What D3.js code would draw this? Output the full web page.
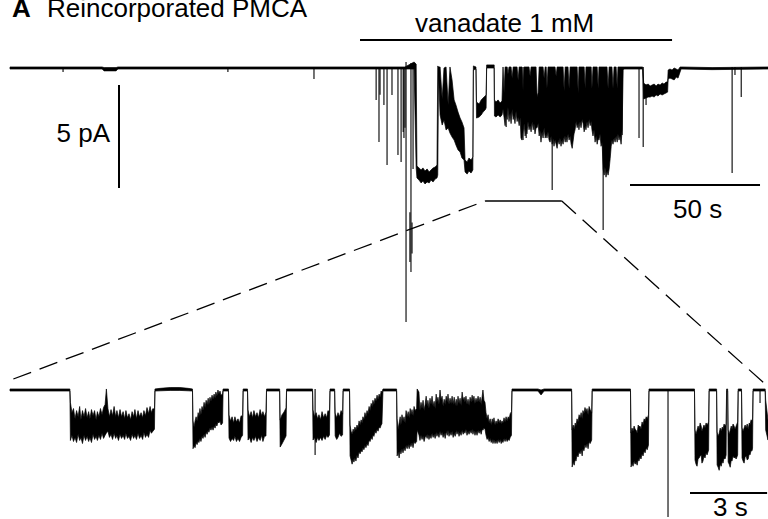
<!DOCTYPE html>
<html><head><meta charset="utf-8">
<script src="https://cdn.jsdelivr.net/npm/d3@7"></script>
<style>
body{margin:0;background:#fff}
svg{display:block}
text{font-family:"Liberation Sans",Helvetica,Arial,sans-serif;fill:#000}
</style></head>
<body><svg id="c" width="768" height="519"></svg>
<script>
// ---- DATA (time in s, current in pA; rows = [time, upper envelope, lower envelope]) ----
const panelLabel = "A";
const panelTitle = "Reincorporated PMCA";
const drugLabel = "vanadate 1 mM";
const drugWindow = [134.6, 254.6];          // s, top record
const expandedWindow = [182.7, 212.2];      // s, top record, shown below
const topDuration = 291.5;                   // s
const bottomDuration = 29.49;                // s
const currentBar = 5;                        // pA
const topTimeBar = 50;                       // s
const bottomTimeBar = 3;                     // s
const currentBarLabel = "5 pA";
const topTimeBarLabel = "50 s";
const bottomTimeBarLabel = "3 s";

const topEnvelope = [
[0,0.05,-0.05],[35.4,0.05,-0.05],[36.2,0.02,-0.14],[40.8,0.02,-0.14],[41.5,0.05,-0.05],
[151.9,0.05,-0.05],[155.4,0.29,-0.05],[156.2,0.19,-4.85],
[156.5,-4.76,-5.34],[157.3,-4.85,-5.44],[158.1,-4.95,-5.58],[158.8,-4.85,-5.49],[159.6,-5.0,-5.63],
[160.4,-4.9,-5.53],[161.2,-5.05,-5.58],[161.9,-4.95,-5.44],[162.7,-4.85,-5.53],[163.5,-4.81,-5.39],
[164.2,-4.71,-5.34],[164.5,0.1,-5.2],[164.8,0.05,-0.34],
[165.4,0.05,-2.28],[166.2,-1.5,-2.77],[166.9,0,-2.52],[167.7,0.05,-3.01],[168.5,-1.8,-2.91],
[169.2,0.05,-3.16],[170.0,-0.58,-3.35],[170.8,-1.55,-3.5],[171.5,-1.8,-3.74],[172.3,-2.14,-3.98],
[173.1,-2.43,-4.08],[173.8,-2.62,-4.37],[174.6,-2.91,-4.47],
[175.0,-4.47,-5.05],[175.8,-4.56,-5.15],[176.5,-4.37,-5.0],[177.3,-4.47,-5.1],[178.0,-4.32,-4.95],
[178.2,0.1,-0.1],[179.2,0.05,-0.05],
[179.4,-1.65,-2.43],[180.4,-1.75,-2.38],[181.2,-1.55,-2.28],[181.9,-1.46,-2.14],[182.7,-1.36,-2.04],[183.1,-1.31,-1.94],
[183.3,0.15,0],[186.2,0.15,0],
[186.3,-1.55,-2.33],[186.9,-1.65,-2.38],[187.7,-1.55,-2.28],[188.5,-1.7,-2.38],[189.2,-1.6,-2.28],
[189.6,0.05,-2.0],[190.0,-1.2,-2.4],[190.4,0.05,-2.8],[190.8,0.05,-2.2],[191.2,0.05,-2.5],[191.5,-0.3,-1.9],
[191.9,0.05,-2.6],[192.3,0.05,-2.2],[192.7,0.05,-2.7],[193.1,-0.5,-2.0],[193.5,0.05,-2.5],[193.8,0.05,-2.3],
[194.2,0.05,-2.7],[194.6,0.05,-2.1],[195.0,0.05,-2.6],[195.4,-0.6,-2.4],[195.8,0.05,-2.8],[196.2,0.05,-2.4],
[196.5,0.05,-3.4],[196.9,0.05,-3.5],[197.3,-1.1,-3.1],[197.7,0.05,-2.7],[198.1,0.05,-3.3],[198.5,0.05,-2.9],
[198.8,0.05,-3.2],[199.2,0.05,-2.6],[199.6,0.05,-3.0],[200.0,-0.4,-2.8],[200.4,0.05,-3.1],[200.8,0.05,-2.6],
[201.2,0.05,-3.0],[201.5,0.05,-2.7],[201.9,0.05,-3.2],[202.3,0.05,-2.9],[202.7,-1.4,-2.9],[203.1,-1.2,-2.7],
[203.5,0.05,-3.3],[203.8,0.05,-3.0],[204.2,0.05,-3.6],[204.6,0.05,-3.1],[205.0,0.05,-3.4],[205.4,-0.5,-2.9],
[205.8,0.05,-3.4],[206.2,0.05,-3.2],[206.5,-1.0,-3.4],[206.9,0.05,-3.1],[207.3,0.05,-3.5],[207.7,0.05,-3.6],
[208.1,0.05,-3.3],[208.5,0.05,-3.7],[208.8,0.05,-3.4],[209.2,0.05,-3.8],[209.6,0.05,-3.5],[210.0,-0.4,-3.7],
[210.4,0.05,-3.9],[210.8,0.05,-3.5],[211.2,0.05,-3.7],[211.5,0.05,-3.4],[211.9,0.05,-3.8],[212.3,0.05,-3.5],
[212.7,0.05,-3.7],[213.1,-1.1,-3.3],[213.5,0.05,-3.6],[213.8,0.05,-3.3],[214.2,0.05,-3.6],[214.6,0.05,-3.2],
[215.0,-1.0,-3.5],[215.4,0.05,-3.3],[215.8,0.05,-3.7],[216.2,0.05,-3.9],[216.5,0.05,-3.6],[216.9,0.05,-3.2],
[217.3,0.05,-3.0],[217.7,0.05,-2.6],[218.1,0.05,-2.9],[218.5,-1.2,-2.7],[218.8,0.05,-3.0],[219.2,0.05,-2.6],
[219.6,0.05,-2.9],[220.0,0.05,-2.5],[220.4,0.05,-2.7],[220.8,0.05,-3.1],[221.2,-1.0,-2.8],[221.5,0.05,-3.0],
[221.9,0.05,-2.6],[222.3,0.05,-2.9],[222.7,0.05,-2.5],[223.1,0.05,-2.8],[223.5,0.05,-2.6],[223.8,-1.0,-3.0],
[224.2,0.05,-3.3],[224.6,0.05,-3.0],[225.0,0.05,-3.6],[225.4,0.05,-3.3],[225.8,0.05,-3.7],[226.2,-1.0,-3.4],
[226.5,0.05,-3.5],[226.9,0.05,-3.2],[227.3,0.05,-3.8],[227.7,0.05,-3.6],[228.1,0.05,-4.9],[228.5,0.05,-5.2],
[228.8,0.05,-4.8],[229.2,0.05,-5.3],[229.6,0.05,-5.0],[230.0,-1.0,-5.2],[230.4,0.05,-4.9],[230.8,0.05,-4.4],
[231.2,0.05,-3.8],[231.5,0.05,-3.5],[231.9,-1.0,-3.7],[232.3,0.05,-3.4],[232.7,0.05,-3.6],[233.1,0.05,-3.3],
[233.5,-1.0,-3.6],[233.8,0.05,-3.2],[234.2,0.05,-3.5],[234.6,0.05,-3.3],[235.0,0.05,-3.7],[235.4,0.05,-3.0],
[235.8,0.05,-0.1],[236.2,0.05,-0.05],[243.3,0.05,-0.05],
[243.7,-0.73,-1.5],[244.6,-0.83,-1.46],[245.4,-0.78,-1.41],[246.2,-0.87,-1.41],[246.9,-0.83,-1.36],
[247.7,-0.78,-1.41],[248.5,-0.87,-1.31],[249.2,-0.78,-1.36],[250.0,-0.83,-1.26],[250.8,-0.73,-1.31],
[251.5,-0.78,-1.26],[252.3,-0.68,-1.21],[252.9,-0.68,-1.17],
[253.1,-0.1,-0.53],[253.8,-0.05,-0.49],[254.6,-0.1,-0.53],[255.4,0,-0.58],[256.2,-0.05,-0.44],
[256.9,-0.1,-0.49],[257.7,0.05,-0.19],[258.1,0.05,-0.05],[270,0.02,-0.08],[291.5,0.05,-0.05]
];
const topSpikes = [ // [time, from, to]
[20.4,0.05,-0.19],[83.8,0.05,-0.19],[116.9,0.05,-0.53],[140.8,0.05,-1.55],[141.9,0.05,-3.59],
[142.3,0.05,-1.3],[143.8,0.05,-1.8],[145.0,0.05,-4.71],[146.9,0.05,-1.31],[149.2,0.05,-4.22],
[150.4,0.05,-4.56],[151.2,0.05,-3.11],[151.5,0.05,-3.4],[151.9,0.05,-2.9],[152.3,0.29,-12.33],
[153.8,-7.0,-9.42],[154.2,0.24,-9.9],[154.6,-7.5,-9.0],[155.0,0.24,-4.9],
[190.8,0.05,-2.86],[197.3,0.05,-3.5],[198.5,0.05,-3.4],[208.5,0.05,-5.92],[228.1,0.05,-7.86],
[235.4,0.05,-3.25],[241.9,0.05,-3.4],[243.5,0.05,-3.83],[244.6,-0.8,-1.8],
[277.7,0.05,-5.1],[278.8,0.05,-0.34],[281.2,0.05,-1.41]
];
const bottomEnvelope = [
[0,0.05,-0.05],[2.33,0.05,-0.05],
[2.35,-0.6,-2.45],[2.41,-1.1,-2.2],[2.47,-0.9,-2.5],[2.53,-1.4,-2.3],[2.59,-1.0,-2.55],[2.65,-1.3,-2.15],
[2.71,-0.8,-2.45],[2.76,-1.45,-2.3],[2.82,-1.0,-2.6],[2.88,-1.3,-2.2],[2.94,-0.9,-2.45],[3.0,-1.35,-2.25],
[3.06,-1.05,-2.5],[3.11,-1.4,-2.3],[3.17,-0.95,-2.55],[3.23,-1.25,-2.15],[3.29,-1.0,-2.4],[3.35,-1.45,-2.25],
[3.4,-1.05,-2.45],[3.46,-1.3,-2.2],[3.52,-0.9,-2.4],[3.58,-1.2,-2.1],[3.64,-0.85,-2.35],[3.7,-0.7,-2.2],
[3.75,0.05,-2.09],[3.81,-0.9,-2.0],[3.87,-1.3,-2.3],[3.93,-0.95,-2.15],[3.99,-1.25,-2.4],[4.05,-0.8,-2.1],
[4.11,-1.3,-2.35],[4.16,-1.0,-2.2],[4.22,-1.35,-2.45],[4.28,-0.95,-2.15],[4.34,-1.3,-2.35],[4.4,-1.05,-2.2],
[4.46,-1.4,-2.4],[4.51,-1.0,-2.1],[4.57,-1.35,-2.35],[4.63,-1.15,-2.25],[4.69,-1.45,-2.45],[4.75,-1.05,-2.15],
[4.81,-1.3,-2.35],[4.86,-0.95,-2.2],[4.92,-1.4,-2.4],[4.98,-1.0,-2.1],[5.04,-1.3,-2.35],[5.1,-1.1,-2.2],
[5.16,-1.35,-2.4],[5.21,-1.0,-2.05],[5.27,-1.25,-2.3],[5.33,-0.85,-2.15],[5.39,-1.15,-2.3],[5.45,-0.8,-1.95],
[5.5,-1.1,-2.1],[5.56,-0.9,-2.0],[5.62,-0.95,-1.9],[5.64,0.05,-0.05],
[5.84,0.08,-0.04],[6.23,0.12,-0.02],[6.61,0.12,-0.02],[6.93,0.08,-0.04],[7.1,0.05,-0.05],
[7.12,-1.5,-2.85],[7.16,-1.8,-2.7],[7.2,-1.5,-2.8],[7.24,-1.3,-2.55],[7.28,-1.5,-2.65],[7.32,-1.1,-2.45],
[7.35,-1.3,-2.55],[7.39,-0.9,-2.35],[7.43,-1.2,-2.5],[7.47,-0.8,-2.25],[7.51,-1.0,-2.35],[7.55,-0.6,-2.15],
[7.59,-0.85,-2.3],[7.63,-0.5,-2.05],[7.67,-0.7,-2.15],[7.71,-0.4,-1.95],[7.74,-0.7,-2.05],[7.78,-0.35,-1.85],
[7.82,-0.55,-1.95],[7.86,-0.25,-1.8],[7.9,-0.45,-1.95],[7.94,-0.2,-1.75],[7.98,-0.4,-1.85],[8.01,-0.1,-1.65],
[8.05,-0.3,-1.75],[8.09,0.0,-1.55],[8.13,-0.2,-1.6],[8.17,-0.05,-1.5],[8.21,-0.25,-1.7],[8.27,-0.2,-1.6],
[8.29,0.05,-0.05],[8.5,0.05,-0.05],
[8.52,-1.21,-2.33],[8.58,-1.5,-2.5],[8.64,-1.3,-2.35],[8.7,-1.6,-2.45],[8.75,-1.3,-2.25],[8.81,-1.55,-2.5],
[8.87,-1.4,-2.35],[8.93,-1.6,-2.5],[8.99,-1.25,-2.3],[9.05,-1.3,-2.2],[9.07,0.05,-0.05],[9.24,0.05,-0.05],
[9.26,-0.97,-2.43],[9.32,-1.3,-2.3],[9.38,-1.05,-2.55],[9.44,-1.35,-2.3],[9.49,-1.0,-2.45],[9.55,-1.3,-2.25],
[9.61,-1.1,-2.5],[9.67,-1.35,-2.3],[9.73,-0.95,-2.45],[9.79,-1.25,-2.2],[9.84,-1.05,-2.5],[9.9,-1.3,-2.25],
[9.96,-1.07,-2.23],[9.98,0.05,-0.05],[10.49,0.05,-0.05],
[10.51,-1.46,-2.77],[10.58,-1.21,-2.62],[10.66,-1.07,-2.43],[10.74,-0.87,-2.23],[10.76,0.05,-0.05],[11.77,0.05,-0.05],
[11.79,-0.97,-2.43],[11.85,-1.3,-2.3],[11.91,-1.1,-2.55],[11.97,-1.4,-2.3],[12.02,-1.2,-2.45],[12.08,-1.45,-2.3],
[12.14,-1.05,-2.45],[12.2,-1.35,-2.25],[12.26,-1.15,-2.4],[12.32,-1.35,-2.2],[12.37,-1.0,-2.3],[12.43,-1.07,-2.18],
[12.45,0.05,-0.05],[12.63,0.05,-0.05],
[12.65,-1.12,-2.23],[12.71,-1.35,-2.4],[12.76,-1.1,-2.3],[12.82,-1.3,-2.1],[12.88,-1.0,-2.25],[12.94,-1.17,-2.18],
[12.96,0.05,-0.05],[13.21,0.05,-0.05],
[13.23,-1.7,-3.2],[13.27,-2.0,-3.4],[13.31,-2.15,-3.6],[13.35,-1.9,-3.35],[13.38,-2.05,-3.5],[13.42,-1.8,-3.3],
[13.46,-1.95,-3.45],[13.5,-1.7,-3.15],[13.54,-1.85,-3.3],[13.58,-1.5,-3.0],[13.62,-1.7,-3.1],[13.66,-1.45,-2.95],
[13.7,-1.6,-3.0],[13.73,-1.3,-2.8],[13.77,-1.45,-2.9],[13.81,-1.1,-2.7],[13.85,-1.3,-2.8],[13.89,-1.0,-2.6],
[13.93,-1.15,-2.7],[13.97,-0.8,-2.45],[14.01,-1.0,-2.5],[14.05,-0.65,-2.3],[14.09,-0.8,-2.4],[14.12,-0.5,-2.2],
[14.16,-0.7,-2.25],[14.2,-0.4,-2.0],[14.24,-0.55,-2.1],[14.28,-0.25,-1.9],[14.32,-0.45,-2.0],[14.36,-0.2,-1.8],
[14.4,-0.35,-1.85],[14.44,-0.05,-1.7],[14.47,-0.15,-1.65],[14.51,0.05,-0.05],[15.04,0.05,-0.05],
[15.06,-1.4,-3.2],[15.1,-1.9,-3.0],[15.14,-1.6,-3.3],[15.18,-1.3,-2.9],[15.21,-1.7,-3.1],[15.25,-1.2,-2.85],
[15.29,-1.5,-3.05],[15.33,-1.3,-2.8],[15.37,-1.6,-2.95],[15.41,-1.0,-2.7],[15.45,-1.3,-2.85],[15.49,-1.05,-2.65],
[15.53,-1.35,-2.85],[15.57,-0.9,-2.6],[15.6,-1.2,-2.75],[15.64,-0.95,-2.55],[15.68,-1.25,-2.8],[15.72,-0.8,-2.5],
[15.76,-1.0,-2.6],[15.82,-0.9,-2.5],[15.84,0.05,-1.94],[15.91,-0.1,-2.18],[15.95,-1.0,-2.45],[15.99,-0.6,-2.2],
[16.03,-0.9,-2.4],[16.07,-0.5,-2.25],[16.11,-1.0,-2.5],[16.15,-0.7,-2.3],[16.19,-0.3,-2.2],[16.23,-0.8,-2.35],
[16.26,-0.5,-2.15],[16.3,-0.9,-2.4],[16.34,-0.4,-2.2],[16.38,-0.7,-2.35],[16.42,-0.3,-2.1],[16.46,-0.8,-2.3],
[16.5,-0.55,-2.15],[16.54,-0.9,-2.35],[16.58,-0.2,-2.05],[16.61,-0.6,-2.25],[16.65,-0.35,-2.1],[16.69,-0.7,-2.3],
[16.73,0.0,-2.0],[16.77,-0.5,-2.2],[16.81,-0.3,-2.05],[16.85,-0.8,-2.3],[16.89,-0.45,-2.1],[16.93,-0.7,-2.35],
[16.97,-0.3,-2.0],[17.01,-0.6,-2.2],[17.04,-0.2,-1.95],[17.08,-0.7,-2.25],[17.12,-0.4,-2.05],[17.16,-0.65,-2.2],
[17.2,-0.3,-2.0],[17.24,-0.7,-2.3],[17.28,-0.35,-2.1],[17.32,-0.75,-2.25],[17.36,-0.45,-1.95],[17.39,-0.8,-2.15],
[17.43,-0.3,-2.0],[17.47,-0.65,-2.25],[17.51,-0.4,-2.05],[17.55,-0.75,-2.2],[17.59,-0.1,-1.95],[17.63,-0.5,-2.15],
[17.67,-0.35,-2.0],[17.7,-0.6,-2.1],[17.74,-0.3,-1.9],[17.78,-0.7,-2.2],[17.82,-0.45,-2.0],[17.86,-0.75,-2.15],
[17.9,-0.35,-1.95],[17.94,-0.6,-2.1],[17.98,-0.25,-1.9],[18.01,-0.55,-2.15],[18.05,-0.3,-1.95],[18.09,-0.65,-2.2],
[18.13,-0.4,-2.0],[18.17,-0.6,-2.2],[18.21,-0.3,-1.95],[18.25,-0.6,-2.1],[18.29,-0.35,-1.95],[18.33,-0.7,-2.15],
[18.37,-0.3,-1.9],[18.4,0.0,-1.95],[18.44,-0.5,-1.85],[18.48,-0.6,-1.9],[18.52,-1.1,-2.2],[18.56,-1.4,-2.4],
[18.6,-1.2,-2.3],[18.64,-1.6,-2.5],[18.68,-1.4,-2.35],[18.72,-1.7,-2.55],[18.76,-1.4,-2.4],[18.79,-1.6,-2.6],
[18.83,-1.35,-2.4],[18.87,-1.7,-2.6],[18.91,-1.5,-2.45],[18.95,-1.65,-2.6],[18.99,-1.4,-2.4],[19.03,-1.6,-2.55],
[19.07,-1.45,-2.4],[19.11,-1.65,-2.6],[19.14,-1.5,-2.45],[19.18,-1.6,-2.55],[19.22,-1.35,-2.35],[19.26,-1.55,-2.5],
[19.3,-1.3,-2.35],[19.34,-1.5,-2.5],[19.38,-1.3,-2.4],[19.42,-1.4,-2.45],[19.46,-1.15,-2.3],[19.51,-1.05,-2.2],
[19.53,0.05,-0.05],[20.54,0.05,-0.05],[20.66,0,-0.24],[20.78,0.05,-0.05],[21.85,0.05,-0.05],
[21.87,-1.94,-3.74],[21.91,-1.7,-3.5],[21.95,-1.9,-3.65],[21.99,-1.6,-3.35],[22.02,-1.75,-3.45],[22.06,-1.4,-3.15],
[22.1,-1.55,-3.25],[22.14,-1.2,-3.0],[22.18,-1.35,-3.1],[22.22,-1.1,-2.9],[22.26,-1.4,-3.2],[22.29,-1.0,-2.85],
[22.33,-1.15,-2.95],[22.37,-0.85,-2.65],[22.41,-1.05,-2.8],[22.45,-0.9,-2.6],[22.49,-1.2,-2.85],[22.53,-0.8,-2.5],
[22.57,-0.95,-2.6],[22.63,-1.12,-2.43],[22.65,0.05,-0.05],[24.14,0.05,-0.05],
[24.16,-2.09,-3.74],[24.2,-1.85,-3.55],[24.24,-2.0,-3.7],[24.28,-1.75,-3.45],[24.32,-1.9,-3.6],[24.36,-1.95,-3.5],
[24.4,-2.1,-3.65],[24.44,-1.7,-3.35],[24.47,-1.8,-3.45],[24.51,-1.75,-3.25],[24.55,-1.9,-3.35],[24.59,-1.55,-3.1],
[24.63,-1.7,-3.2],[24.67,-1.4,-2.95],[24.71,-1.5,-3.05],[24.75,-1.3,-2.8],[24.79,-1.4,-2.9],[24.84,-1.21,-2.67],
[24.86,0.05,-0.05],[26.63,0.05,-0.05],
[26.65,-1.94,-3.4],[26.69,-2.15,-3.6],[26.73,-1.95,-3.7],[26.77,-1.75,-3.35],[26.81,-1.9,-3.3],[26.85,-1.6,-3.2],
[26.89,-1.75,-3.15],[26.92,-2.0,-3.55],[26.96,-1.85,-3.45],[27.0,-1.7,-3.2],[27.04,-1.85,-3.3],[27.08,-1.6,-3.05],
[27.12,-1.7,-3.15],[27.18,-1.55,-2.91],[27.2,0.05,-0.05],[27.49,0.05,-0.05],
[27.51,-2.04,-3.64],[27.55,-2.25,-3.75],[27.59,-2.1,-3.9],[27.63,-1.85,-3.6],[27.67,-2.0,-3.7],[27.71,-1.8,-3.45],
[27.74,-1.9,-3.55],[27.78,-1.65,-3.3],[27.82,-1.75,-3.35],[27.86,-1.65,-3.16],
[27.88,0.05,-0.05],[27.92,0.05,-0.05],
[27.94,-1.94,-3.5],[27.98,-2.15,-3.6],[28.02,-1.95,-3.75],[28.06,-1.75,-3.4],[28.09,-1.9,-3.45],[28.13,-1.65,-3.2],
[28.17,-1.75,-3.3],[28.21,-1.9,-3.25],[28.25,-1.75,-3.35],[28.31,-1.55,-3.16],
[28.33,0.05,-0.05],[28.46,0.05,-0.05],
[28.48,-1.84,-3.3],[28.52,-2.0,-3.45],[28.56,-1.85,-3.55],[28.6,-1.7,-3.25],[28.64,-1.85,-3.2],[28.68,-1.65,-3.4],
[28.72,-1.9,-3.35],[28.76,-1.6,-3.1],[28.79,-1.7,-3.15],[28.83,-1.45,-2.95],[28.87,-1.5,-2.95],[28.89,-1.36,-2.82],
[28.91,0.05,-0.05],[29.38,0.05,-0.05],[29.4,-0.49,-1.94],[29.49,-1.46,-2.43]
];
const bottomSpikes = [
[11.87,0.05,-3.16],[25.60,0.05,-6.17],[29.18,0.05,-0.63]
];

// ---- DRAWING ----
const svg = d3.select("#c");
const xTop = d3.scaleLinear().domain([0, topDuration]).range([10, 768]);
const yTop = d3.scaleLinear().domain([0, -5]).range([68, 171]);
const xBot = d3.scaleLinear().domain([0, bottomDuration]).range([10, 768]);
const yBot = d3.scaleLinear().domain([0, -5]).range([390, 493]);

function drawTrace(env, spikes, x, y) {
  const area = d3.area().x(d => x(d[0])).y0(d => y(d[2])).y1(d => y(d[1]));
  svg.append("path").attr("d", area(env))
    .attr("fill", "#000").attr("stroke", "#000").attr("stroke-width", 0.7)
    .attr("stroke-linejoin", "round");
  svg.append("g").selectAll("line").data(spikes).join("line")
    .attr("x1", d => x(d[0])).attr("x2", d => x(d[0]))
    .attr("y1", d => y(d[1])).attr("y2", d => y(d[2]))
    .attr("stroke", "#000").attr("stroke-width", 1.1);
}
drawTrace(topEnvelope, topSpikes, xTop, yTop);
drawTrace(bottomEnvelope, bottomSpikes, xBot, yBot);

// title
svg.append("text").attr("x", 12).attr("y", 17).attr("font-size", 26).attr("font-weight", "bold").text(panelLabel);
svg.append("text").attr("x", 47).attr("y", 17).attr("font-size", 26).text(panelTitle);

// drug application bar
svg.append("line").attr("x1", xTop(drugWindow[0])).attr("x2", xTop(drugWindow[1]))
  .attr("y1", 40).attr("y2", 40).attr("stroke", "#000").attr("stroke-width", 1.8);
svg.append("text").attr("x", 415).attr("y", 32).attr("font-size", 26).text(drugLabel);

// current scale bar
const cbTop = 85;
svg.append("line").attr("x1", 119).attr("x2", 119)
  .attr("y1", cbTop).attr("y2", cbTop + (yTop(-currentBar) - yTop(0)))
  .attr("stroke", "#000").attr("stroke-width", 2);
svg.append("text").attr("x", 110).attr("y", 142).attr("font-size", 26).attr("text-anchor", "end").text(currentBarLabel);

// 50 s bar
const tb0 = 630;
svg.append("line").attr("x1", tb0).attr("x2", tb0 + xTop(topTimeBar) - xTop(0))
  .attr("y1", 185).attr("y2", 185).attr("stroke", "#000").attr("stroke-width", 2);
svg.append("text").attr("x", 673).attr("y", 218).attr("font-size", 26).text(topTimeBarLabel);

// 3 s bar
const bb0 = 690;
svg.append("line").attr("x1", bb0).attr("x2", bb0 + xBot(bottomTimeBar) - xBot(0))
  .attr("y1", 493).attr("y2", 493).attr("stroke", "#000").attr("stroke-width", 2);
svg.append("text").attr("x", 713).attr("y", 516).attr("font-size", 26).text(bottomTimeBarLabel);

// expansion connectors
const connY = 201;
svg.append("line").attr("x1", xBot(0.13)).attr("y1", 379).attr("x2", xTop(expandedWindow[0])).attr("y2", connY)
  .attr("stroke", "#000").attr("stroke-width", 1.3).attr("stroke-dasharray", "19,9");
svg.append("line").attr("x1", xTop(expandedWindow[0])).attr("y1", connY).attr("x2", xTop(expandedWindow[1])).attr("y2", connY)
  .attr("stroke", "#000").attr("stroke-width", 1.3);
svg.append("line").attr("x1", xTop(expandedWindow[1])).attr("y1", connY).attr("x2", xBot(29.33)).attr("y2", 383)
  .attr("stroke", "#000").attr("stroke-width", 1.3).attr("stroke-dasharray", "19,9");
</script>
</body></html>
